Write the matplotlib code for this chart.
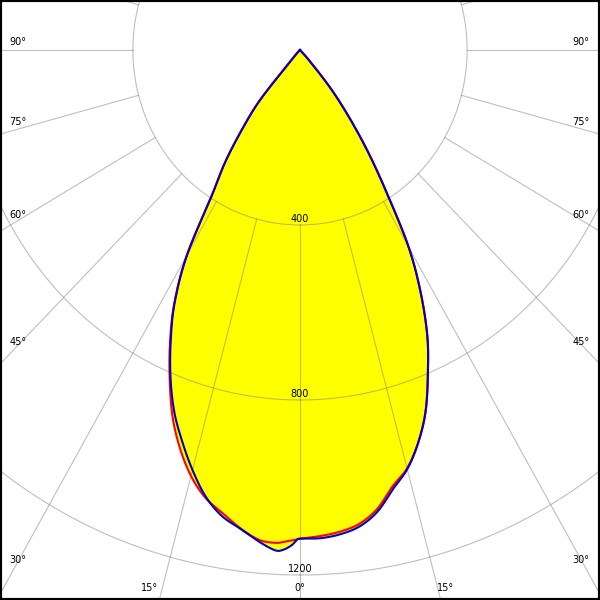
import numpy as np
import matplotlib
matplotlib.use('Agg')
import matplotlib.pyplot as plt

# polar light distribution, angle in degrees from nadir (0 = straight down)
angles = [-90, -45, -42.5, -40, -37.5, -35, -32.5, -30, -27.5, -25, -22.5, -20,
          -17.5, -15, -12.5, -10, -7.5, -5, -3, -2, -1, -0.4, 0,
          2.5, 5, 7.5, 10, 12.5, 15, 17.5, 20, 22.5, 25, 27.5, 30, 32.5,
          35, 37.5, 40, 42.5, 45, 90]

# blue plane
plane_blue = [0, 0, 22, 145, 225, 311, 390, 540, 649, 732, 810, 880,
              938, 994, 1045, 1081, 1103, 1128, 1145, 1143, 1132, 1120, 1117,
              1117, 1111, 1098, 1071, 1028, 992, 941, 879, 800, 721, 626, 520, 385,
              282, 190, 112, 35, 0, 0]

# red plane
plane_red = [0, 0, 22, 145, 225, 311, 390, 542, 651, 736, 815, 892,
             955, 1008, 1048, 1074, 1102, 1124, 1128, 1125, 1121, 1119, 1117,
             1112, 1105, 1092, 1065, 1022, 990, 941, 879, 800, 721, 626, 520, 385,
             282, 190, 112, 35, 0, 0]

rings = [400, 800, 1200]
ring_labels = ['400', '800', '1200']

side_angles = [90, 75, 60, 45, 30]
bottom_angles = [-15, 0, 15]


def to_xy(theta_deg, r):
        th = np.radians(np.asarray(theta_deg, dtype=float))
        r = np.asarray(r, dtype=float)
        return r * np.sin(th), -r * np.cos(th)


#smooth drawing through the measured points (catmull-rom)
def smooth(x, y, n=12):
        p = np.column_stack([x, y])
        p = np.vstack([p[0], p, p[-1]])
        out = []
        s = np.linspace(0, 1, n, endpoint=False)[:, None]
        for i in range(1, len(p) - 2):
                p0, p1, p2, p3 = p[i - 1], p[i], p[i + 1], p[i + 2]
                seg = 0.5 * ((2 * p1) + (-p0 + p2) * s + (2 * p0 - 5 * p1 + 4 * p2 - p3) * s ** 2
                             + (-p0 + 3 * p1 - 3 * p2 + p3) * s ** 3)
                out.append(seg)
        out.append(p[-2][None, :])
        out = np.vstack(out)
        return out[:, 0], out[:, 1]


#pixel scale of the original picture (slightly squeezed in x)
sx = 0.4178
sy = 0.4375
cx, cy = 300, 50

fig = plt.figure(figsize=(6, 6), dpi=100)
ax = fig.add_axes([0, 0, 1, 1])
ax.set_xlim(-cx / sx, (600 - cx) / sx)
ax.set_ylim(-(600 - cy) / sy, cy / sy)
ax.set_xticks([])
ax.set_yticks([])
for sp in ax.spines.values():
        sp.set_color('black')
        sp.set_linewidth(3)

#only the part between the two zero points is drawn
inner = slice(1, len(angles) - 1)
bx, by = smooth(*to_xy(angles[inner], plane_blue[inner]))
rx, ry = smooth(*to_xy(angles[inner], plane_red[inner]))

#yellow area = union of both planes
ax.fill(rx, ry, color='#ffff00', lw=0, zorder=1)
ax.fill(bx, by, color='#ffff00', lw=0, zorder=1)

#grid
t = np.linspace(0, 360, 721)
for r in rings:
        gx, gy = to_xy(t, np.full_like(t, r))
        ax.plot(gx, gy, color='#808080', alpha=0.5, lw=0.8, zorder=2)
for a in range(-165, 181, 15):
        gx, gy = to_xy([a, a], [rings[0], 4000])
        ax.plot(gx, gy, color='#808080', alpha=0.5, lw=0.8, zorder=2)

ax.plot(rx, ry, color='#ff0000', lw=1.5, zorder=3, solid_joinstyle='round')
ax.plot(bx, by, color='#0000c8', lw=1.5, zorder=4, solid_joinstyle='round')

for r, lab in zip(rings, ring_labels):
        ax.text(0, -r + 6 / sy, lab, ha='center', va='center', fontsize=7, zorder=5)

#angle labels along the border (pixel positions of the original)
side_y = {90: 42, 75: 122, 60: 215, 45: 342, 30: 560}
for a in side_angles:
        ax.annotate('%d°' % a, xy=(18, 600 - side_y[a]), xycoords='figure pixels',
                    ha='center', va='center', fontsize=7)
        ax.annotate('%d°' % a, xy=(581, 600 - side_y[a]), xycoords='figure pixels',
                    ha='center', va='center', fontsize=7)
bottom_x = {-15: 150, 0: 300, 15: 446}
for a in bottom_angles:
        ax.annotate('%d°' % abs(a), xy=(bottom_x[a], 12), xycoords='figure pixels',
                    ha='center', va='center', fontsize=7)

fig.savefig('out.png', dpi=100)
